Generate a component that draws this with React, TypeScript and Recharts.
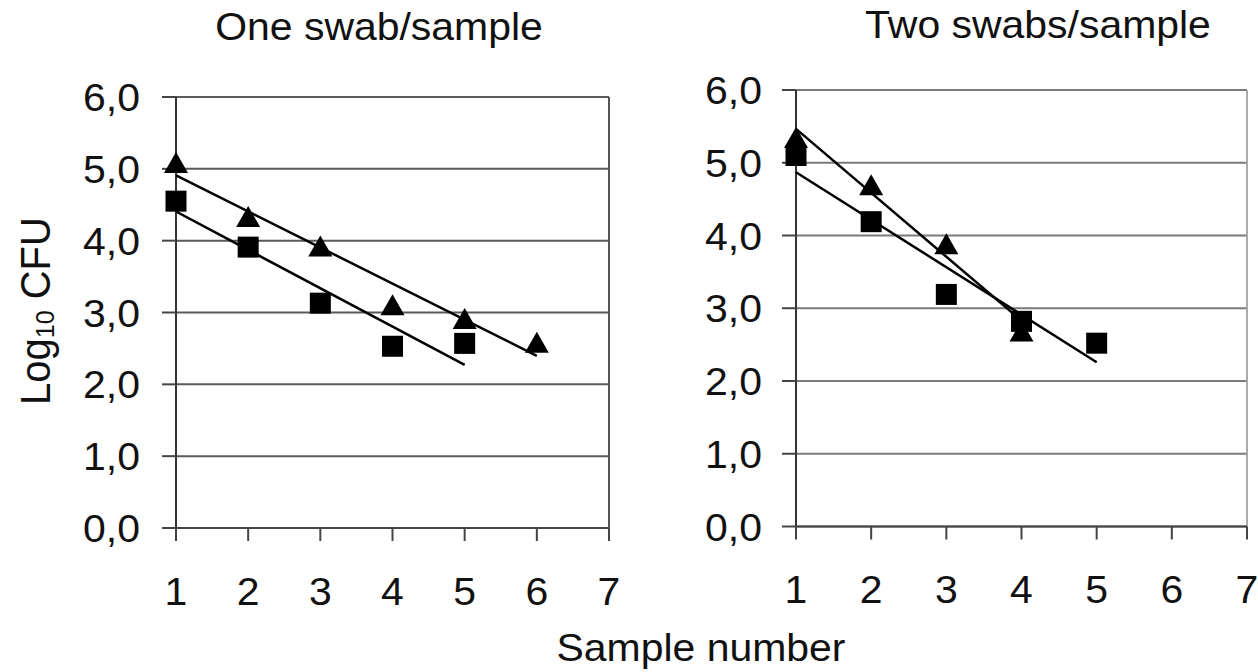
import React from 'react';
import { ScatterChart, Scatter, XAxis, YAxis, CartesianGrid, ReferenceLine } from 'recharts';

// ---- Data ----
const sampleTicks = [1, 2, 3, 4, 5, 6, 7];
const logTicks = [0, 1, 2, 3, 4, 5, 6];

const oneSwabTriangleX = [1, 2, 3, 4, 5, 6];
const oneSwabTriangleY = [5.08, 4.33, 3.92, 3.1, 2.91, 2.58];
const oneSwabSquareX = [1, 2, 3, 4, 5];
const oneSwabSquareY = [4.55, 3.91, 3.13, 2.53, 2.57];

const twoSwabTriangleX = [1, 2, 3, 4];
const twoSwabTriangleY = [5.34, 4.69, 3.88, 2.68];
const twoSwabSquareX = [1, 2, 3, 4, 5];
const twoSwabSquareY = [5.1, 4.19, 3.19, 2.82, 2.52];

const titles = ['One swab/sample', 'Two swabs/sample'];

const FONT = '"Liberation Sans", Arial, sans-serif';
const SX = 1.05;

const toPoints = (xs: number[], ys: number[]) => xs.map((x, i) => ({ x, y: ys[i] }));

// Linear (least squares) trendline over the series' x range, like a spreadsheet trendline
const trend = (xs: number[], ys: number[]) => {
  const n = xs.length;
  const mx = xs.reduce((a, b) => a + b, 0) / n;
  const my = ys.reduce((a, b) => a + b, 0) / n;
  let sxy = 0;
  let sxx = 0;
  xs.forEach((x, i) => {
    sxy += (x - mx) * (ys[i] - my);
    sxx += (x - mx) * (x - mx);
  });
  const b = sxy / sxx;
  const a = my - b * mx;
  const x0 = Math.min(...xs);
  const x1 = Math.max(...xs);
  return [
    { x: x0, y: a + b * x0 },
    { x: x1, y: a + b * x1 },
  ];
};

const Square = (props: any) => {
  const { cx, cy } = props;
  if (cx == null || cy == null) return <g />;
  return <rect x={cx - 10.5} y={cy - 10.5} width={21} height={21} fill="#000" />;
};

const Triangle = (props: any) => {
  const { cx, cy } = props;
  if (cx == null || cy == null) return <g />;
  return (
    <polygon
      points={`${cx},${cy - 11} ${cx + 12},${cy + 10} ${cx - 12},${cy + 10}`}
      fill="#000"
    />
  );
};

const Nothing = () => <g />;

const YTick = (props: any) => {
  const { x, y, payload } = props;
  const label = Number(payload.value).toFixed(1).replace('.', ',');
  return (
    <text
      transform={`translate(${x},${y}) scale(${SX},1)`}
      x={0}
      y={0}
      dy={14}
      textAnchor="end"
      fontSize={39}
      fontFamily={FONT}
      fill="#111"
    >
      {label}
    </text>
  );
};

const XTick = (props: any) => {
  const { x, y, payload } = props;
  return (
    <text
      transform={`translate(${x},${y}) scale(${SX},1)`}
      x={0}
      y={0}
      dy={64}
      textAnchor="middle"
      fontSize={39}
      fontFamily={FONT}
      fill="#111"
    >
      {payload.value}
    </text>
  );
};

type PanelProps = {
  left: number;
  width: number;
  top: number;
  plotBottom: number;
  yAxisWidth: number;
  right: number;
  tickMargin: number;
  gridColor: string;
  borderColor: string;
  tri: { x: number; y: number }[];
  sq: { x: number; y: number }[];
  triLine: { x: number; y: number }[];
  sqLine: { x: number; y: number }[];
};

const Panel = (p: PanelProps) => {
  const H = 672;
  const xAxisH = 60;
  return (
    <div style={{ position: 'absolute', left: p.left, top: 0 }}>
      <ScatterChart
        width={p.width}
        height={H}
        margin={{ top: p.top, right: p.right, left: 0, bottom: H - p.plotBottom - xAxisH }}
      >
        <CartesianGrid horizontal vertical={false} stroke={p.gridColor} strokeWidth={2} />
        <XAxis
          type="number"
          dataKey="x"
          domain={[1, 7]}
          ticks={sampleTicks}
          interval={0}
          height={xAxisH}
          tickSize={13}
          tickMargin={0}
          axisLine={{ stroke: '#444', strokeWidth: 2 }}
          tickLine={{ stroke: '#444', strokeWidth: 2 }}
          tick={<XTick />}
        />
        <YAxis
          type="number"
          dataKey="y"
          domain={[0, 6]}
          ticks={logTicks}
          interval={0}
          width={p.yAxisWidth}
          tickSize={14}
          tickMargin={p.tickMargin}
          axisLine={{ stroke: '#333', strokeWidth: 2 }}
          tickLine={{ stroke: '#444', strokeWidth: 2 }}
          tick={<YTick />}
        />
        <ReferenceLine x={7} stroke={p.borderColor} strokeWidth={2} />
        <Scatter data={p.tri} shape={<Triangle />} isAnimationActive={false} />
        <Scatter data={p.sq} shape={<Square />} isAnimationActive={false} />
        <Scatter
          data={p.triLine}
          shape={<Nothing />}
          line={{ stroke: '#000', strokeWidth: 2.5 }}
          isAnimationActive={false}
        />
        <Scatter
          data={p.sqLine}
          shape={<Nothing />}
          line={{ stroke: '#000', strokeWidth: 2.5 }}
          isAnimationActive={false}
        />
      </ScatterChart>
    </div>
  );
};

export default function App() {
  return (
    <div
      style={{
        position: 'absolute',
        left: 0,
        top: 0,
        width: 1258,
        height: 672,
        background: '#fff',
        overflow: 'hidden',
      }}
    >
      <Panel
        left={0}
        width={640}
        top={97}
        plotBottom={528}
        yAxisWidth={176}
        right={31}
        tickMargin={22}
        gridColor="#5a5a5a"
        borderColor="#555"
        tri={toPoints(oneSwabTriangleX, oneSwabTriangleY)}
        sq={toPoints(oneSwabSquareX, oneSwabSquareY)}
        triLine={trend(oneSwabTriangleX, oneSwabTriangleY)}
        sqLine={trend(oneSwabSquareX, oneSwabSquareY)}
      />
      <Panel
        left={640}
        width={618}
        top={90}
        plotBottom={526.5}
        yAxisWidth={156}
        right={11}
        tickMargin={20}
        gridColor="#7a7a7a"
        borderColor="#aaa"
        tri={toPoints(twoSwabTriangleX, twoSwabTriangleY)}
        sq={toPoints(twoSwabSquareX, twoSwabSquareY)}
        triLine={trend(twoSwabTriangleX, twoSwabTriangleY)}
        sqLine={trend(twoSwabSquareX, twoSwabSquareY)}
      />
      <svg
        width={1258}
        height={672}
        style={{ position: 'absolute', left: 0, top: 0, pointerEvents: 'none' }}
      >
        <text
          transform={`translate(379,40) scale(${SX},1)`}
          textAnchor="middle"
          fontSize={39}
          fontFamily={FONT}
          fill="#111"
        >
          {titles[0]}
        </text>
        <text
          transform={`translate(1038,38) scale(${SX},1)`}
          textAnchor="middle"
          fontSize={39}
          fontFamily={FONT}
          fill="#111"
        >
          {titles[1]}
        </text>
        <text
          transform={`translate(50,311) scale(${SX},1) rotate(-90)`}
          textAnchor="middle"
          fontSize={40}
          fontFamily={FONT}
          fill="#111"
        >
          Log<tspan fontSize={25} dy={4}>10</tspan>
          <tspan dy={-4}> CFU</tspan>
        </text>
        <text
          transform={`translate(701,661) scale(${SX},1)`}
          textAnchor="middle"
          fontSize={39}
          fontFamily={FONT}
          fill="#111"
        >
          Sample number
        </text>
      </svg>
    </div>
  );
}
